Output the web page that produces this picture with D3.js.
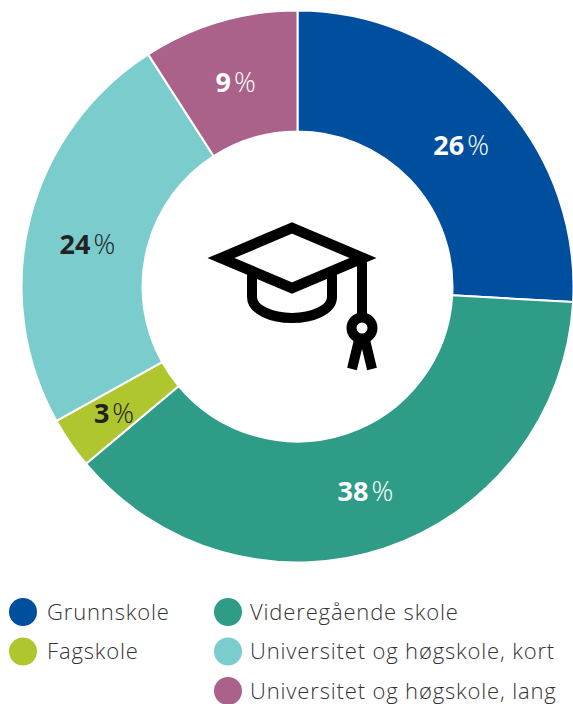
<!DOCTYPE html>
<html>
<head>
<meta charset="utf-8">
<script src="https://cdn.jsdelivr.net/npm/d3@7"></script>
<style>
	html, body { margin: 0; padding: 0; background: #fff; }
	svg { display: block; font-family: "Open Sans", sans-serif; }
</style>
</head>
<body>
<div id="chart"></div>
<script>
var categories = ['Grunnskole', 'Videregående skole', 'Fagskole', 'Universitet og høgskole, kort', 'Universitet og høgskole, lang'];
var shares = [25.9, 38, 3, 24, 9.1];
var colors = ['#004f9f', '#2e9c87', '#afc62f', '#7bcdcd', '#aa628a'];
var labelColors = ['#fff', '#fff', '#222', '#222', '#fff'];

// legend reads row by row, two columns, last row only has the second one
var legendOrder = [0, 1, 2, 3, 4];
var legendCol = [0, 1, 0, 1, 1];
var legendRow = [0, 0, 1, 1, 2];

var width = 573, height = 704;
var cx = 297.5, cy = 286.5;

var svg = d3.select('#chart').append('svg').attr('width', width).attr('height', height);

var pie = d3.pie().sort(null).value(function (d) { return d; });
var arc = d3.arc().innerRadius(155).outerRadius(276);
var arcs = pie(shares);

var ring = svg.append('g').attr('transform', 'translate(' + cx + ',' + cy + ')');

ring.selectAll('path')
	.data(arcs)
	.enter().append('path')
	.attr('d', arc)
	.attr('fill', function (d, i) { return colors[i]; })
	.attr('stroke', '#fff')
	.attr('stroke-width', 2);

// labels sit a little off the centroid in the original
var nudge = [[7, 7], [0, 0], [-6, 5], [-1, 10], [-1, 3]];

var labels = ring.selectAll('text')
	.data(arcs)
	.enter().append('text')
	.attr('x', function (d, i) { return arc.centroid(d)[0] + nudge[i][0]; })
	.attr('y', function (d, i) { return arc.centroid(d)[1] + nudge[i][1]; })
	.attr('dy', '0.36em')
	.attr('text-anchor', 'middle')
	.attr('font-size', 27)
	.attr('fill', function (d, i) { return labelColors[i]; });

labels.append('tspan')
	.attr('font-weight', 700)
	.text(function (d) { return Math.round(d.value); });
labels.append('tspan')
	.attr('dx', 3)
	.attr('font-weight', 300)
	.text('%');

// graduation cap in the hole
var icon = svg.append('g')
	.attr('fill', 'none')
	.attr('stroke', '#000')
	.attr('stroke-width', 10);

icon.append('path')
	.attr('d', 'M221,258 L292,228 L363,258 L292,288 Z')
	.attr('stroke-width', 10.5)
	.attr('stroke-linejoin', 'miter')
	.attr('stroke-miterlimit', 6);
icon.append('path')
	.attr('d', 'M252,274 V297 C252,310 272,318 292,318 C312,318 332,310 332,297 V274');
icon.append('path')
	.attr('d', 'M362,258 V318');
icon.append('circle')
	.attr('cx', 362).attr('cy', 328).attr('r', 10.5);
icon.append('path')
	.attr('d', 'M359,340 L352,369 M365,340 L372,369')
	.attr('stroke-width', 10);

var colX = d3.scaleOrdinal().domain([0, 1]).range([23, 228]);
var rowY = d3.scalePoint().domain([0, 1, 2]).range([612, 691]);

var legend = svg.selectAll('g.legend')
	.data(legendOrder)
	.enter().append('g')
	.attr('class', 'legend')
	.attr('transform', function (d, i) {
		return 'translate(' + colX(legendCol[i]) + ',' + rowY(legendRow[i]) + ')';
	});

legend.append('circle')
	.attr('r', 14)
	.attr('fill', function (d) { return colors[d]; });

legend.append('text')
	.attr('x', function (d, i) { return legendCol[i] === 0 ? 24 : 22; })
	.attr('dy', '0.36em')
	.attr('font-size', 22)
	.attr('letter-spacing', 0.85)
	.attr('font-weight', 300)
	.attr('fill', '#333')
	.text(function (d) { return categories[d]; });
</script>
</body>
</html>
